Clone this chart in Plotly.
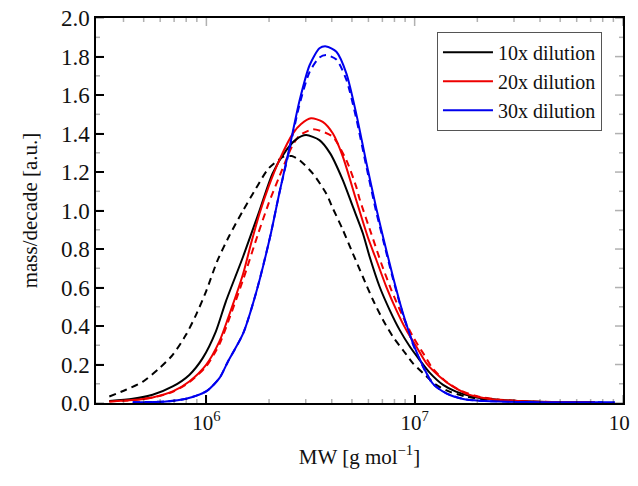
import plotly.graph_objects as go

# ---- data ----
series_names = ["10x dilution", "20x dilution", "30x dilution"]
series_colors = ["#000000", "#ee0000", "#0000ee"]

mw_10x = [3.42e5, 4.43e5, 5.52e5, 6.89e5, 8.28e5, 9.60e5, 1.11e6, 1.24e6, 1.50e6, 1.80e6,
          2.08e6, 2.42e6, 2.70e6, 3.01e6, 3.49e6, 3.93e6, 4.52e6, 5.05e6, 5.64e6, 6.08e6,
          6.79e6, 7.59e6, 8.47e6, 9.46e6, 1.06e7, 1.18e7, 1.37e7, 1.58e7, 1.91e7, 2.38e7,
          3.57e7, 4.98e7, 7.33e7]
val_10x = [0.011, 0.022, 0.043, 0.086, 0.146, 0.233, 0.371, 0.527, 0.76, 1.00,
           1.193, 1.314, 1.37, 1.392, 1.366, 1.297, 1.158, 1.02, 0.882, 0.76,
           0.604, 0.483, 0.38, 0.295, 0.222, 0.158, 0.094, 0.059, 0.033, 0.019,
           0.008, 0.005, 0.003]

mw_10x_d = [3.42e5, 4.11e5, 4.94e5, 5.94e5, 6.89e5, 7.98e5, 8.92e5, 9.97e5, 1.13e6, 1.29e6,
            1.50e6, 1.73e6, 1.99e6, 2.35e6, 2.57e6, 2.80e6, 3.24e6, 3.76e6, 4.05e6, 4.52e6,
            5.05e6, 5.64e6, 6.31e6, 7.05e6, 7.87e6, 8.79e6, 9.82e6, 1.10e7, 1.27e7, 1.47e7,
            1.77e7, 2.30e7, 3.57e7, 4.98e7]
val_10x_d = [0.034, 0.069, 0.11, 0.18, 0.25, 0.354, 0.458, 0.58, 0.74, 0.87,
             1.00, 1.115, 1.219, 1.28, 1.283, 1.262, 1.193, 1.089, 1.011, 0.90,
             0.777, 0.656, 0.535, 0.431, 0.344, 0.275, 0.206, 0.154, 0.094, 0.059,
             0.033, 0.015, 0.006, 0.004]

mw_20x = [3.42e5, 4.43e5, 5.52e5, 6.89e5, 8.28e5, 9.97e5, 1.155e6, 1.27e6, 1.50e6, 1.64e6,
          1.80e6, 1.99e6, 2.24e6, 2.60e6, 2.85e6, 3.18e6, 3.62e6, 4.05e6, 4.52e6, 5.24e6,
          5.95e6, 6.55e6, 7.31e6, 8.17e6, 9.12e6, 1.02e7, 1.14e7, 1.32e7, 1.53e7, 1.84e7,
          2.30e7, 3.57e7, 4.98e7, 7.33e7]
val_20x = [0.008, 0.015, 0.029, 0.06, 0.112, 0.198, 0.32, 0.44, 0.67, 0.83,
           0.985, 1.124, 1.262, 1.40, 1.45, 1.479, 1.461, 1.40, 1.28, 1.055,
           0.864, 0.743, 0.604, 0.483, 0.379, 0.292, 0.206, 0.137, 0.085, 0.042,
           0.021, 0.008, 0.005, 0.004]

mw_20x_d = [3.42e5, 4.43e5, 5.52e5, 6.89e5, 8.28e5, 9.97e5, 1.155e6, 1.27e6, 1.50e6, 1.76e6,
            1.99e6, 2.24e6, 2.57e6, 2.80e6, 3.24e6, 3.62e6, 4.05e6, 4.70e6, 5.24e6, 5.44e6,
            6.19e6, 6.92e6, 7.73e6, 8.79e6, 9.82e6, 1.10e7, 1.22e7, 1.42e7, 1.64e7, 1.98e7,
            2.47e7, 3.57e7, 4.98e7, 7.33e7]
val_20x_d = [0.008, 0.015, 0.029, 0.058, 0.108, 0.19, 0.305, 0.42, 0.64, 0.87,
             1.037, 1.176, 1.33, 1.39, 1.422, 1.41, 1.383, 1.262, 1.124, 1.06,
             0.88, 0.725, 0.587, 0.448, 0.344, 0.258, 0.18, 0.11, 0.068, 0.036,
             0.019, 0.008, 0.005, 0.004]

mw_30x = [4.43e5, 6.40e5, 7.98e5, 9.97e5, 1.155e6, 1.27e6, 1.50e6, 1.73e6,
          2.02e6, 2.24e6, 2.51e6, 2.80e6, 3.13e6, 3.49e6, 3.76e6, 4.21e6, 4.70e6, 5.24e6,
          5.86e6, 6.55e6, 7.05e6, 7.87e6, 8.79e6, 9.82e6, 1.10e7, 1.22e7, 1.42e7, 1.71e7,
          2.05e7, 3.57e7, 4.98e7, 9.16e7]
val_30x = [0.004, 0.008, 0.022, 0.06, 0.129, 0.216, 0.36, 0.57,
           0.86, 1.09, 1.33, 1.57, 1.755, 1.843, 1.853, 1.825, 1.713, 1.505,
           1.25, 1.01, 0.864, 0.656, 0.466, 0.31, 0.189, 0.102, 0.05, 0.021,
           0.012, 0.005, 0.004, 0.004]

mw_30x_d = [4.43e5, 6.40e5, 7.98e5, 9.97e5, 1.155e6, 1.27e6, 1.50e6, 1.73e6,
            2.02e6, 2.24e6, 2.51e6, 2.80e6, 3.13e6, 3.49e6, 3.76e6, 4.21e6, 4.70e6, 5.24e6,
            5.86e6, 6.55e6, 7.05e6, 7.87e6, 8.79e6, 9.82e6, 1.10e7, 1.22e7, 1.42e7, 1.71e7,
            2.05e7, 3.57e7, 4.98e7, 8.00e7]
val_30x_d = [0.004, 0.008, 0.022, 0.06, 0.129, 0.216, 0.36, 0.57,
             0.86, 1.09, 1.32, 1.55, 1.72, 1.795, 1.808, 1.785, 1.68, 1.48,
             1.23, 0.99, 0.85, 0.645, 0.46, 0.305, 0.186, 0.10, 0.05, 0.021,
             0.012, 0.005, 0.004, 0.004]

y_tick_vals = [0.0, 0.2, 0.4, 0.6, 0.8, 1.0, 1.2, 1.4, 1.6, 1.8, 2.0]
y_minor_vals = [0.1, 0.3, 0.5, 0.7, 0.9, 1.1, 1.3, 1.5, 1.7, 1.9]
x_tick_vals = [1e6, 1e7, 1e8]
x_tick_text = ["10<sup>6</sup>", "10<sup>7</sup>", "10<sup>8</sup>"]
x_minor_vals = [4e5, 5e5, 6e5, 7e5, 8e5, 9e5,
                2e6, 3e6, 4e6, 5e6, 6e6, 7e6, 8e6, 9e6,
                2e7, 3e7, 4e7, 5e7, 6e7, 7e7, 8e7, 9e7]
x_title = "MW [g mol<sup>−1</sup>]"
y_title = "mass/decade [a.u.]"

FONT = "Liberation Serif"
X_RANGE = [5.47, 8.0005]
MAJOR_LEN, MINOR_LEN, TICK_W = 8, 4, 1.5

fig = go.Figure()
solid = [(mw_10x, val_10x), (mw_20x, val_20x), (mw_30x, val_30x)]
dashed = [(mw_10x_d, val_10x_d), (mw_20x_d, val_20x_d), (mw_30x_d, val_30x_d)]
for (x, y), name, col in zip(dashed, series_names, series_colors):
    fig.add_trace(go.Scatter(x=x, y=y, mode="lines", name=name + " (dashed)",
                             line=dict(color=col, width=2, dash="7px,5px", shape="spline", smoothing=0.7),
                             showlegend=False))
for (x, y), name, col in zip(solid, series_names, series_colors):
    fig.add_trace(go.Scatter(x=x, y=y, mode="lines", name=name,
                             line=dict(color=col, width=2, shape="spline", smoothing=0.7)))

# inside tick marks on all four sides, placed through the axes' own scales
tick_shapes = []
tick_line = dict(color="black", width=TICK_W)
for vals, ln in ((x_tick_vals, MAJOR_LEN), (x_minor_vals, MINOR_LEN)):
    for v in vals:
        tick_shapes.append(dict(type="line", xref="x", yref="paper", ysizemode="pixel",
                                yanchor=0, x0=v, x1=v, y0=0, y1=ln, line=tick_line, layer="above"))
        tick_shapes.append(dict(type="line", xref="x", yref="paper", ysizemode="pixel",
                                yanchor=1, x0=v, x1=v, y0=0, y1=-ln, line=tick_line, layer="above"))
for vals, ln in ((y_tick_vals, MAJOR_LEN), (y_minor_vals, MINOR_LEN)):
    for v in vals:
        tick_shapes.append(dict(type="line", yref="y", xref="paper", xsizemode="pixel",
                                xanchor=0, y0=v, y1=v, x0=0, x1=ln, line=tick_line, layer="above"))
        tick_shapes.append(dict(type="line", yref="y", xref="paper", xsizemode="pixel",
                                xanchor=1, y0=v, y1=v, x0=0, x1=-ln, line=tick_line, layer="above"))

fig.update_layout(
    template="simple_white",
    shapes=tick_shapes,
    xaxis=dict(type="log", range=X_RANGE, tickmode="array",
               tickvals=x_tick_vals, ticktext=x_tick_text,
               showline=True, linecolor="black", linewidth=1.5, mirror=True,
               ticks="inside", ticklen=MAJOR_LEN, tickwidth=2, tickcolor="black",
               showgrid=False, zeroline=False, ticklabeloverflow="allow",
               tickfont=dict(family=FONT, size=21, color="#111"),
               title=dict(text=x_title, font=dict(family=FONT, size=21, color="#111"))),
    yaxis=dict(range=[0, 2.0005], tickmode="array", tickvals=y_tick_vals, tickformat=".1f",
               showline=True, linecolor="black", linewidth=1.5, mirror=True,
               ticks="inside", ticklen=MAJOR_LEN, tickwidth=2, tickcolor="black",
               showgrid=False, zeroline=False, ticklabeloverflow="allow",
               tickfont=dict(family=FONT, size=23, color="#111"),
               title=dict(text=y_title, standoff=18, font=dict(family=FONT, size=21, color="#111"))),
)

# the page body adds an 8px offset; size the figure so the whole chart fits in 638x486
fig.update_layout(
    width=630, height=478,
    margin=dict(l=88, r=15, t=10, b=83, autoexpand=False),
    paper_bgcolor="white", plot_bgcolor="white",
    font=dict(family=FONT, size=21, color="#111"),
    legend=dict(x=0.647, y=0.964, xanchor="left", yanchor="top",
                bgcolor="white", bordercolor="#555", borderwidth=1,
                font=dict(family=FONT, size=20, color="#111"),
                itemwidth=50, tracegroupgap=0),
)

fig.write_html("out.html")
